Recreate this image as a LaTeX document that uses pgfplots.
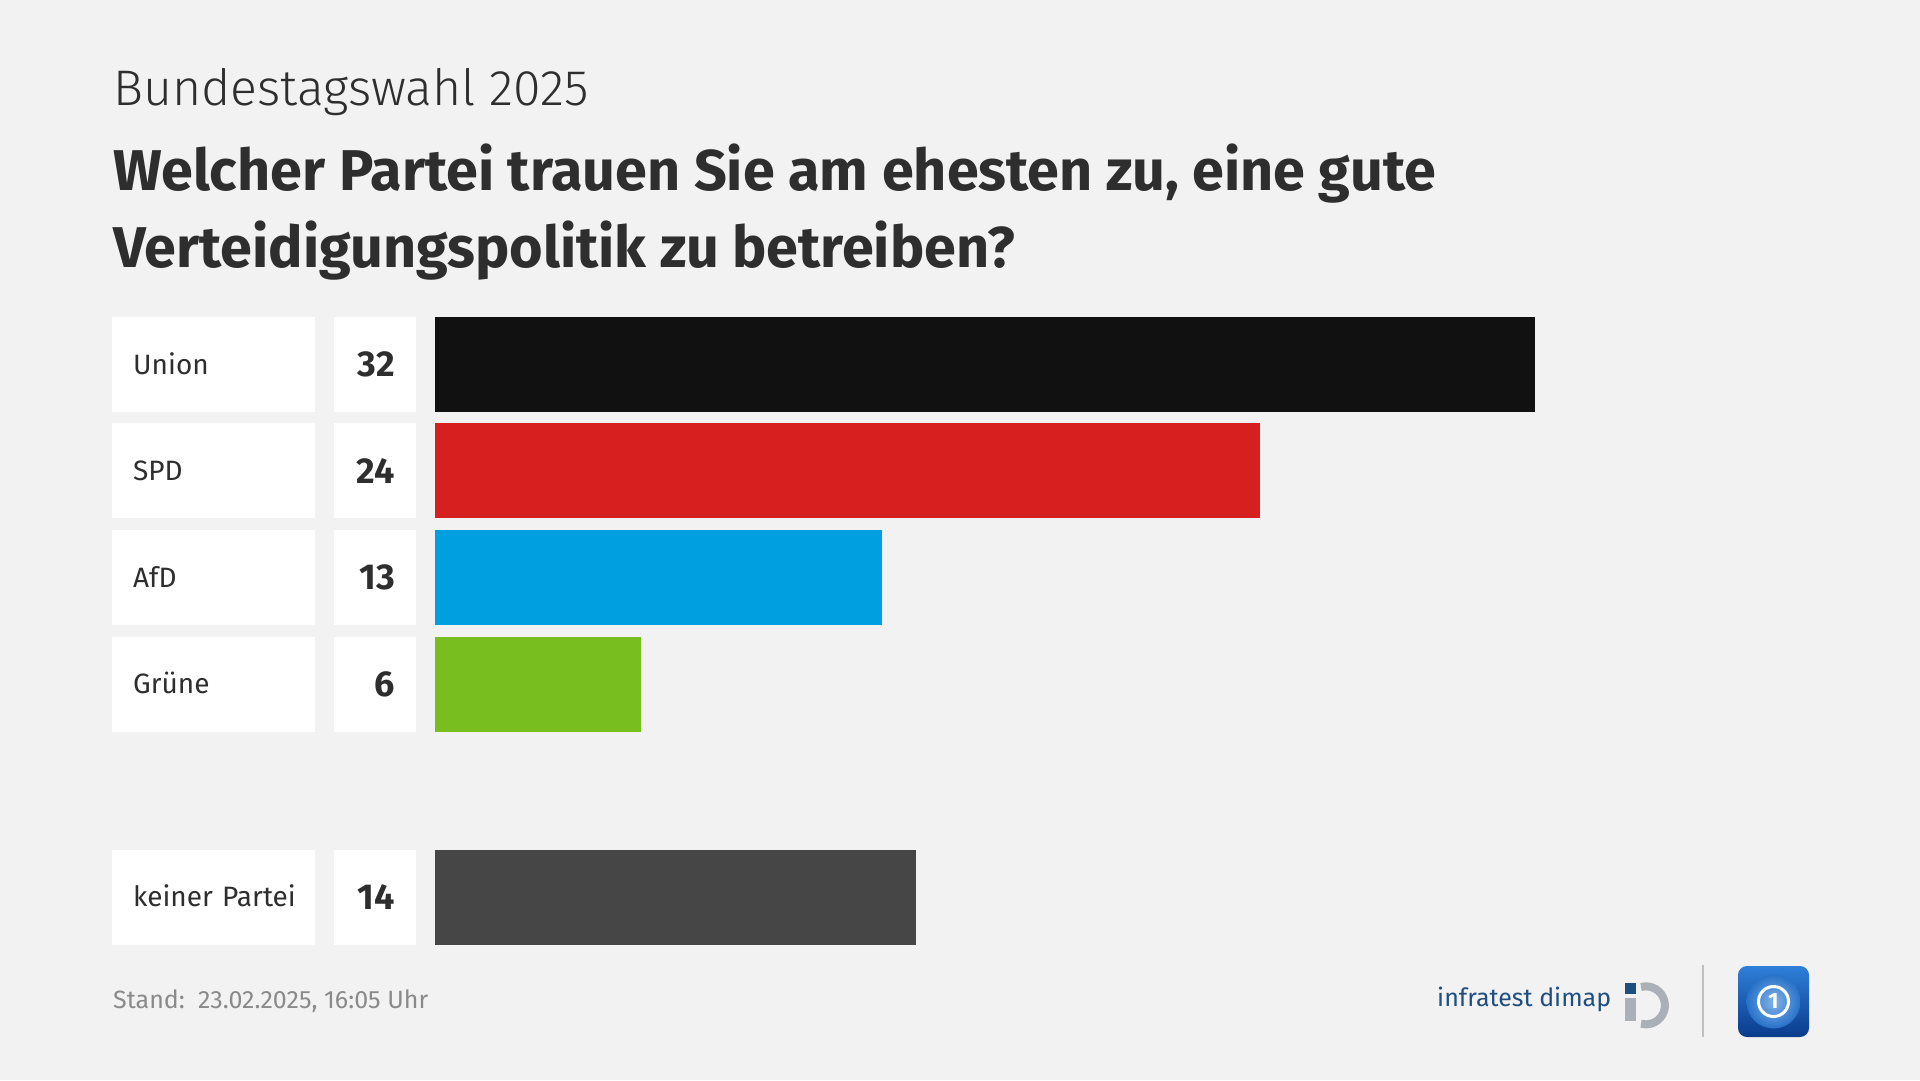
\documentclass[border=0pt]{standalone}
\usepackage{pgfplots}
\pgfplotsset{compat=1.18}
\usepackage{pgfplotstable}
\usepackage{fontspec}
\setmainfont{Fira Sans}
\newfontfamily\lightfont{Fira Sans Light}

\definecolor{bg}{HTML}{F2F2F2}
\definecolor{ink}{HTML}{2E2E2E}
\definecolor{union}{HTML}{111111}
\definecolor{spd}{HTML}{D71F1F}
\definecolor{afd}{HTML}{009FE0}
\definecolor{gruene}{HTML}{78BE1E}
\definecolor{keine}{HTML}{464646}
\definecolor{stand}{HTML}{8A8A8A}
\definecolor{infra}{HTML}{1E4F80}
\definecolor{infragrey}{HTML}{AAB0B5}
\definecolor{apptop}{HTML}{2F7FD8}
\definecolor{appbot}{HTML}{0A3B8C}

% row position, value, label
\pgfplotstableread[col sep=comma, row sep=\\]{
pos,value,label\\
0,32,Union\\
1,24,SPD\\
2,13,AfD\\
3,6,Grüne\\
5,14,keiner Partei\\
}\umfrage

\begin{document}
\begin{tikzpicture}
  \fill[bg] (0pt,0pt) rectangle (1920pt,-1080pt);

  % titles
  \node[anchor=base west, inner sep=0pt, text=ink, font=\lightfont\fontsize{50pt}{58pt}\selectfont]
    at (113pt,-105pt) {Bundestagswahl 2025};
  \node[anchor=base west, inner sep=0pt, text=ink, font=\bfseries\fontsize{57.5pt}{66pt}\selectfont]
    at (113pt,-190pt) {Welcher Partei trauen Sie am ehesten zu, eine gute};
  \node[anchor=base west, inner sep=0pt, text=ink, font=\bfseries\fontsize{57.5pt}{66pt}\selectfont]
    at (113pt,-267pt) {Verteidigungspolitik zu betreiben?};

  \begin{axis}[
    at={(0pt,-1080pt)}, anchor=south west,
    width=1920pt, height=1080pt, scale only axis,
    xmin=-12.6545, xmax=43.2,
    ymin=-3.42254, ymax=6.71831,
    y dir=reverse,
    hide axis, clip=false,
    barstyle/.style={xbar, bar width=95pt, bar shift=0pt, draw=none},
  ]
    % bars, one row each
    \addplot[barstyle, fill=union,  restrict expr to domain={\coordindex}{0:0}] table[x=value, y=pos] {\umfrage};
    \addplot[barstyle, fill=spd,    restrict expr to domain={\coordindex}{1:1}] table[x=value, y=pos] {\umfrage};
    \addplot[barstyle, fill=afd,    restrict expr to domain={\coordindex}{2:2}] table[x=value, y=pos] {\umfrage};
    \addplot[barstyle, fill=gruene, restrict expr to domain={\coordindex}{3:3}] table[x=value, y=pos] {\umfrage};
    \addplot[barstyle, fill=keine,  restrict expr to domain={\coordindex}{4:4}] table[x=value, y=pos] {\umfrage};

    % number boxes
    \addplot[draw=none, mark=none, nodes near coords, point meta={\thisrow{value}},
      /pgf/number format/assume math mode=true,
      nodes near coords style={anchor=east, fill=white, text=ink,
        font=\bfseries\fontsize{36pt}{40pt}\selectfont,
        minimum height=95pt, inner xsep=21pt, inner ysep=0pt,
        text width=40pt, align=right, text height=25pt, text depth=0pt}]
      table[x expr=-0.5527, y=pos] {\umfrage};

    % label boxes
    \addplot[draw=none, mark=none, point meta=explicit symbolic,
      nodes near coords={\hspace*{21pt}\pgfplotspointmeta},
      nodes near coords style={anchor=west, fill=white, text=ink,
        font=\fontsize{28pt}{32pt}\selectfont,
        minimum height=95pt, inner xsep=0pt, inner ysep=0pt,
        text width=203pt, align=left, text height=19.5pt, text depth=0pt}]
      table[x expr=-9.3964, y=pos, meta=label] {\umfrage};
  \end{axis}

  % footer
  \node[anchor=base west, inner sep=0pt, text=stand, font=\fontsize{25pt}{30pt}\selectfont]
    at (113pt,-1008pt) {Stand:\ \ 23.02.2025, 16:05 Uhr};

  % infratest dimap logo
  \node[anchor=base west, inner sep=0pt, text=infra, font=\fontsize{25pt}{30pt}\selectfont]
    at (1437pt,-1006pt) {infratest dimap};
  \fill[infra] (1625pt,-983pt) rectangle (1636pt,-994pt);
  \fill[infragrey] (1625pt,-998pt) rectangle (1636pt,-1021pt);
  \draw[infragrey, line width=8pt] (1641pt,-987pt) arc[start angle=105, end angle=-105, radius=19pt];

  % separator
  \draw[line width=2pt, color=black!25] (1703pt,-965pt) -- (1703pt,-1037pt);

  % app icon
  \shade[rounded corners=9pt, top color=apptop, bottom color=appbot]
    (1738pt,-966pt) rectangle (1809pt,-1037pt);
  \shade[inner color=apptop!60!white, outer color=apptop!80!appbot] (1773.5pt,-1001.5pt) circle (27pt);
  \draw[white, line width=3pt] (1773.5pt,-1001.5pt) circle (15pt);
  \node[text=white, font=\bfseries\fontsize{22pt}{24pt}\selectfont, inner sep=0pt]
    at (1773.5pt,-1001.5pt) {1};
\end{tikzpicture}
\end{document}
